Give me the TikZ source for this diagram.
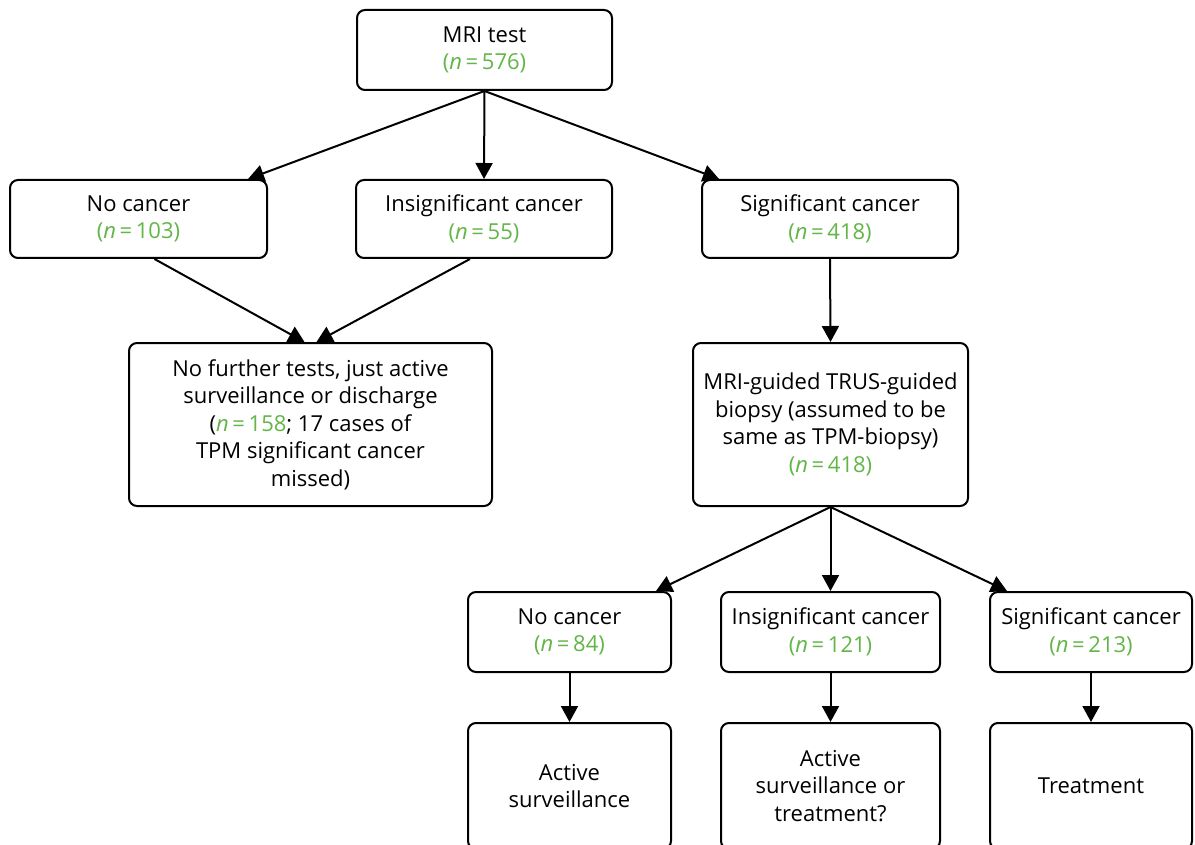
\documentclass[tikz,border=0pt]{standalone}
\usepackage{fontspec}
\setmainfont{Open Sans}
\usetikzlibrary{arrows.meta,calc}
\definecolor{ngreen}{RGB}{98,182,72}
\newcommand{\nn}[1]{\textcolor{ngreen}{(\textit{n}\,=\,#1)}}
\tikzset{
  box/.style={draw, line width=2pt, rounded corners=8pt, align=center, inner sep=0pt,
    font=\fontsize{22}{27.5}\selectfont},
  arr/.style={line width=2pt, -{Triangle[length=16pt,width=17pt]}}
}
\begin{document}
\begin{tikzpicture}[x=1pt,y=-1pt]
\useasboundingbox (0,0) rectangle (1195,845);
\fill[white] (0,0) rectangle (1195,845);
\begin{scope}
\clip (0,0) rectangle (1195,845);
\node[box, minimum width=255pt, minimum height=80pt] (mri) at (484.5,50) {MRI test\\\nn{576}};
\node[box, minimum width=257pt, minimum height=78pt] (nc) at (138.5,219) {No cancer\\\nn{103}};
\node[box, minimum width=256pt, minimum height=78pt] (ic) at (484,219) {Insignificant cancer\\\nn{55}};
\node[box, minimum width=256pt, minimum height=78pt] (sc) at (830,219) {Significant cancer\\\nn{418}};
\node[box, minimum width=363pt, minimum height=163pt] (nf) at (310.5,424.5) {No further tests, just active\\surveillance or discharge\\(\textcolor{ngreen}{\textit{n}\,=\,158}; 17 cases of\\TPM significant cancer\\missed)};
\node[box, minimum width=275pt, minimum height=163pt] (mg) at (830.5,424.5) {MRI-guided TRUS-guided\\biopsy (assumed to be\\same as TPM-biopsy)\\\nn{418}};
\node[box, minimum width=203pt, minimum height=80pt] (nc2) at (569.5,632) {No cancer\\\nn{84}};
\node[box, minimum width=219pt, minimum height=80pt] (ic2) at (830.5,632) {Insignificant cancer\\\nn{121}};
\node[box, minimum width=202pt, minimum height=80pt] (sc2) at (1091,632) {Significant cancer\\\nn{213}};
\node[box, minimum width=203pt, minimum height=126pt] (as) at (569.5,786) {Active\\surveillance};
\node[box, minimum width=219pt, minimum height=126pt] (at) at (830.5,786) {Active\\surveillance or\\treatment?};
\node[box, minimum width=202pt, minimum height=126pt] (tr) at (1091,786) {Treatment};

\draw[arr] (mri.south) -- ($(nc.north east)+(-20,0)$);
\draw[arr] (mri.south) -- (ic.north);
\draw[arr] (mri.south) -- ($(sc.north west)+(18,0)$);
\draw[arr] ($(nc.south)+(16,0)$) -- ($(nf.north)+(-6,0)$);
\draw[arr] ($(ic.south)+(-14,0)$) -- ($(nf.north)+(6,0)$);
\draw[arr] (sc.south) -- (mg.north);
\draw[arr] (mg.south) -- ($(nc2.north east)+(-16,0)$);
\draw[arr] (mg.south) -- (ic2.north);
\draw[arr] (mg.south) -- ($(sc2.north west)+(18,0)$);
\draw[arr] (nc2.south) -- (as.north);
\draw[arr] (ic2.south) -- (at.north);
\draw[arr] (sc2.south) -- (tr.north);
\end{scope}
\end{tikzpicture}
\end{document}
